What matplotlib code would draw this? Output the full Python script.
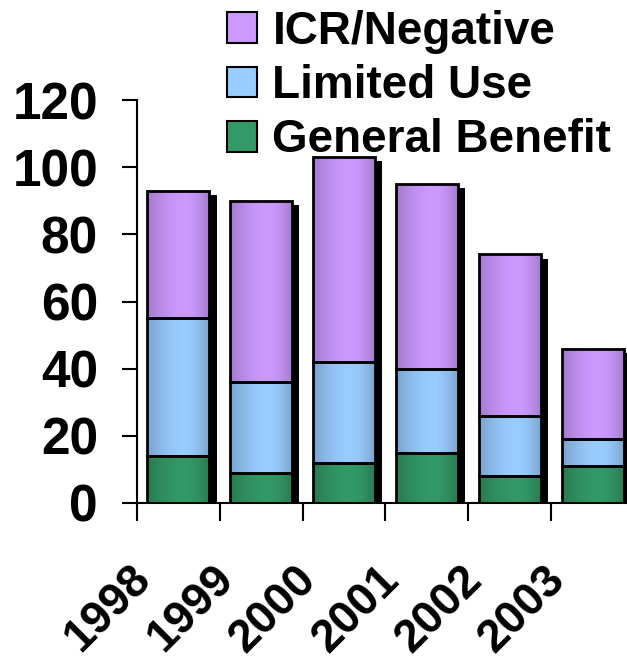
import matplotlib
matplotlib.use("Agg")
import matplotlib.pyplot as plt
import matplotlib.transforms as mtransforms
from matplotlib.patches import Patch
import numpy as np

plt.rcParams['font.family'] = ['Liberation Sans', 'DejaVu Sans']
plt.rcParams['font.weight'] = 'bold'

# Review outcomes per year
years = ["1998", "1999", "2000", "2001", "2002", "2003"]
general_benefit = [14, 9, 12, 15, 8, 11]
limited_use = [41, 27, 30, 25, 18, 8]
icr_negative = [38, 54, 61, 55, 48, 27]

series_names = ["General Benefit", "Limited Use", "ICR/Negative"]
peak_colors = ["#339966", "#99CCFF", "#CC99FF"]

fig = plt.figure(figsize=(6.27, 6.67), dpi=100)
ax = fig.add_axes([137 / 627, 164 / 667, 497 / 627, 403 / 667])

x = np.arange(len(years))
width = 0.75

gb = np.array(general_benefit)
lu = np.array(limited_use)
neg = np.array(icr_negative)
totals = gb + lu + neg

# drop shadow behind each stack
ax.bar(x + 0.085, totals - 1.2, width, color='black', zorder=1)

# horizontal shading profile: darker at the edges, brightest right of centre
t = np.linspace(0, 1, 64)
shade = np.where(t < 0.6, 0.80 + 0.20 * np.sin(t / 0.6 * np.pi / 2),
                 0.80 + 0.20 * np.cos((t - 0.6) / 0.4 * np.pi / 2))

def shaded_bars(values, bottom, color):
    bars = ax.bar(x, values, width, bottom=bottom, facecolor='none',
                  edgecolor='black', linewidth=2, zorder=3)
    rgb = np.array(matplotlib.colors.to_rgb(color))
    grad = (shade[:, None] * rgb[None, :])[None, :, :]
    for p in bars.patches:
        x0, y0 = p.get_x(), p.get_y()
        ax.imshow(grad, extent=[x0, x0 + p.get_width(), y0, y0 + p.get_height()],
                  aspect='auto', interpolation='bilinear', zorder=2)
    return bars

shaded_bars(gb, 0, peak_colors[0])
shaded_bars(lu, gb, peak_colors[1])
shaded_bars(neg, gb + lu, peak_colors[2])

ax.set_xlim(-0.5, 5.5)
ax.set_ylim(0, 120)
ax.set_yticks(np.arange(0, 121, 20))
ax.tick_params(axis='y', labelsize=37, length=11, width=1.5, pad=17)

ax.set_xticks(x)
ax.set_xticklabels(years, rotation=45, ha='right', va='top', fontsize=33)
ax.set_xticks(np.arange(-0.5, 5.6, 1), minor=True)
ax.tick_params(axis='x', which='major', length=0, pad=39)
ax.tick_params(axis='x', which='minor', length=13, width=1.5)
shift = mtransforms.ScaledTranslation(-0.19, 0, fig.dpi_scale_trans)
for lbl in ax.get_xticklabels():
    lbl.set_transform(lbl.get_transform() + shift)

for side in ['top', 'right']:
    ax.spines[side].set_visible(False)
for side in ['left', 'bottom']:
    ax.spines[side].set_linewidth(1.5)

handles = [Patch(facecolor=c, edgecolor='black', linewidth=1.5)
           for c in peak_colors[::-1]]
fig.legend(handles, series_names[::-1], loc='upper left',
           bbox_to_anchor=(227 / 627, 0.985), frameon=False, fontsize=33,
           handlelength=0.66, handleheight=0.66, handletextpad=0.33,
           labelspacing=0.22, borderpad=0, borderaxespad=0)

fig.savefig("out.png", dpi=100)
